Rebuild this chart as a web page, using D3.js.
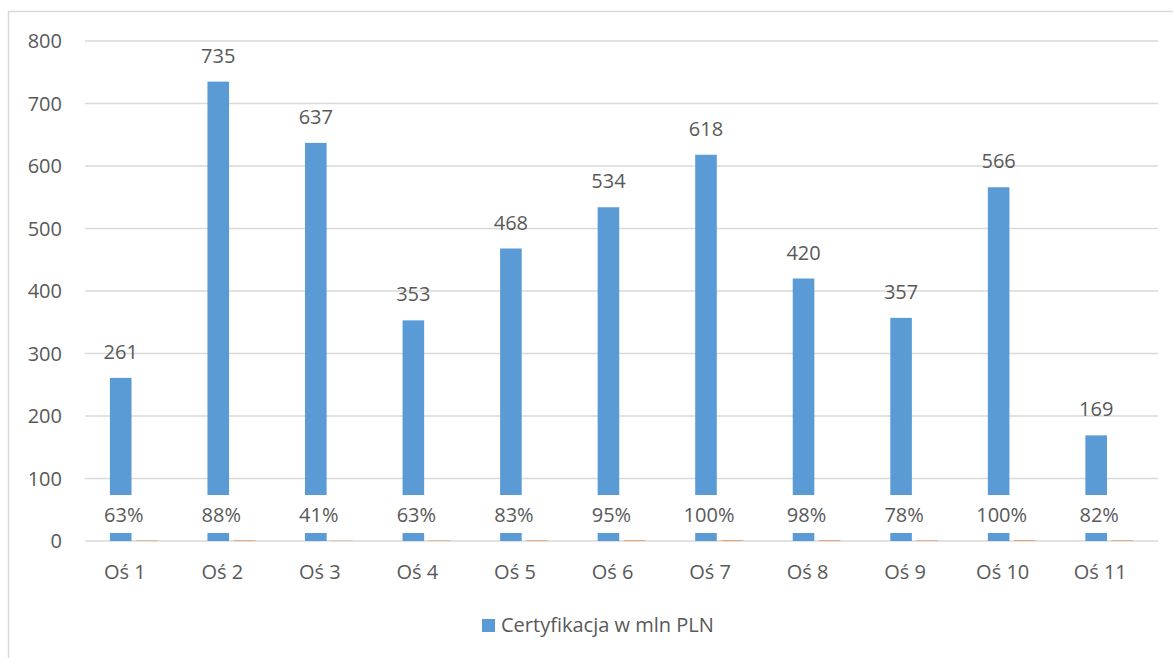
<!DOCTYPE html>
<html>
<head>
<meta charset="utf-8">
<script src="https://cdn.jsdelivr.net/npm/d3@7"></script>
<style>
  body { margin: 0; background: #fff; }
  text { font-family: "Open Sans", "Noto Sans", sans-serif; fill: #595959; }
</style>
</head>
<body>
<svg id="canvas" width="1173" height="658"></svg>
<script>
const categories = ["Oś 1", "Oś 2", "Oś 3", "Oś 4", "Oś 5", "Oś 6", "Oś 7", "Oś 8", "Oś 9", "Oś 10", "Oś 11"];
const certyfikacja = [261, 735, 637, 353, 468, 534, 618, 420, 357, 566, 169];
const procent = [0.63, 0.88, 0.41, 0.63, 0.83, 0.95, 1.00, 0.98, 0.78, 1.00, 0.82];
const yTicks = [0, 100, 200, 300, 400, 500, 600, 700, 800];
const legendLabel = "Certyfikacja w mln PLN";

const svg = d3.select("#canvas");
const fs = 20;

// chart border (open on the right and bottom, like the cropped screenshot)
svg.append("rect")
    .attr("x", 8.5).attr("y", 11.5)
    .attr("width", 1200).attr("height", 700)
    .attr("fill", "none")
    .attr("stroke", "#d9d9d9")
    .attr("stroke-width", 1.5);

const plotLeft = 85, plotRight = 1158, plotTop = 41, plotBottom = 541;

const x = d3.scaleBand().domain(categories).range([plotLeft, plotRight]);
const y = d3.scaleLinear().domain([0, 800]).range([plotBottom, plotTop]);

const barW = 21.6, gap = 4.5;

// gridlines
svg.append("g")
    .selectAll("line")
    .data(yTicks)
    .join("line")
    .attr("x1", plotLeft).attr("x2", plotRight)
    .attr("y1", d => y(d)).attr("y2", d => y(d))
    .attr("stroke", "#d9d9d9")
    .attr("stroke-width", 1.5);

// y axis labels
svg.append("g")
    .selectAll("text")
    .data(yTicks)
    .join("text")
    .attr("x", 62)
    .attr("y", d => y(d) + 7)
    .attr("text-anchor", "end")
    .attr("font-size", fs)
    .text(d => d);

const cx = d => x(d) + x.bandwidth() / 2;

// blue bars
svg.append("g")
    .selectAll("rect")
    .data(categories)
    .join("rect")
    .attr("x", (d, i) => cx(d) - gap / 2 - barW)
    .attr("y", (d, i) => y(certyfikacja[i]))
    .attr("width", barW)
    .attr("height", (d, i) => y(0) - y(certyfikacja[i]))
    .attr("fill", "#5b9bd5");

// second series (tiny values)
svg.append("g")
    .selectAll("rect")
    .data(categories)
    .join("rect")
    .attr("x", d => cx(d) + gap / 2)
    .attr("y", (d, i) => y(procent[i]))
    .attr("width", barW)
    .attr("height", (d, i) => y(0) - y(procent[i]))
    .attr("fill", "#ed7d31");

// value labels
svg.append("g")
    .selectAll("text")
    .data(categories)
    .join("text")
    .attr("x", d => cx(d) - gap / 2 - barW / 2)
    .attr("y", (d, i) => y(certyfikacja[i]) - 19)
    .attr("text-anchor", "middle")
    .attr("font-size", fs)
    .text((d, i) => certyfikacja[i]);

// percent labels with white background
const pct = svg.append("g")
    .selectAll("g")
    .data(categories)
    .join("g")
    .attr("transform", d => "translate(" + (cx(d) - gap / 2 - barW / 2 + 3) + ",0)");

pct.append("rect")
    .attr("x", -30)
    .attr("y", 495)
    .attr("width", 60)
    .attr("height", 38)
    .attr("fill", "#fff");

pct.append("text")
    .attr("x", 0)
    .attr("y", 522)
    .attr("text-anchor", "middle")
    .attr("font-size", fs)
    .text((d, i) => Math.round(procent[i] * 100) + "%");

// category labels
svg.append("g")
    .selectAll("text")
    .data(categories)
    .join("text")
    .attr("x", d => cx(d) - 9)
    .attr("y", 579)
    .attr("text-anchor", "middle")
    .attr("font-size", fs)
    .text(d => d);

// legend
const lg = svg.append("g").attr("transform", "translate(482,619)");
lg.append("rect").attr("width", 13).attr("height", 13).attr("fill", "#5b9bd5");
lg.append("text").attr("x", 19).attr("y", 13).attr("font-size", fs).text(legendLabel);
</script>
</body>
</html>
